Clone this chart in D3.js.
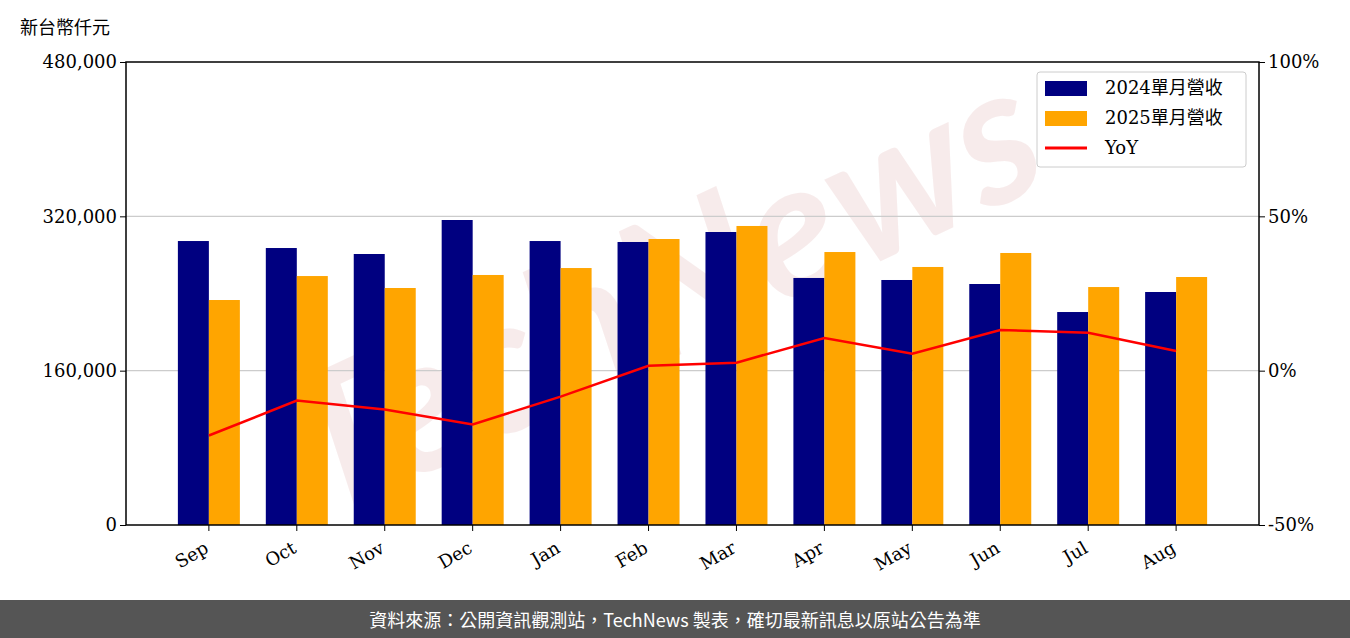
<!DOCTYPE html>
<html><head><meta charset="utf-8">
<script src="https://cdn.jsdelivr.net/npm/d3@7"></script>
<style>body{margin:0;background:#fff}</style>
</head><body><div id="chart"></div>
<script>
// data
var months = ["Sep","Oct","Nov","Dec","Jan","Feb","Mar","Apr","May","Jun","Jul","Aug"];
var rev2024 = [294400,287150,280950,316200,294400,293400,303750,256100,254000,249850,220800,241550];
var rev2025 = [233250,258100,245700,259200,266400,296500,310000,283000,267500,282000,246700,257100];
var yoy = [-21,-9.7,-12.6,-17.4,-8.4,1.6,2.6,10.6,5.5,13.2,12.3,6.4];
var leftTicks = [0,160000,320000,480000];
var rightTicks = [-50,0,50,100];

var W = 1350, H = 638;
var L = 126, R = 1259, T = 62, B = 525;
var serif = "'DejaVu Serif','Noto Sans CJK TC',serif";

var svg = d3.select("#chart").append("svg").attr("width", W).attr("height", H);

// watermark
svg.append("text").attr("x", 690).attr("y", 350)
  .attr("transform", "rotate(-25,690,350)")
  .attr("text-anchor", "middle")
  .attr("font-family", "Lato,sans-serif").attr("font-weight", "bold").attr("font-style", "italic")
  .attr("font-size", 190).attr("fill", "#f2dcdc").attr("opacity", 0.55)
  .text("TechNews");

var x = d3.scaleBand().domain(months).range([L, R]).paddingInner(0.295).paddingOuter(0.59);
var y = d3.scaleLinear().domain([0, 480000]).range([B, T]);
var y2 = d3.scaleLinear().domain([-50, 100]).range([B, T]);

// grid
svg.selectAll(".grid").data(leftTicks.slice(1, 3)).enter().append("line")
  .attr("x1", L).attr("x2", R).attr("y1", d => y(d)).attr("y2", d => y(d))
  .attr("stroke", "#ccc").attr("stroke-width", 1.2);

var bw = x.bandwidth() / 2;
svg.selectAll(".b24").data(rev2024).enter().append("rect")
  .attr("x", (d, i) => x(months[i])).attr("width", bw)
  .attr("y", d => y(d)).attr("height", d => B - y(d)).attr("fill", "#000080");
svg.selectAll(".b25").data(rev2025).enter().append("rect")
  .attr("x", (d, i) => x(months[i]) + bw).attr("width", bw)
  .attr("y", d => y(d)).attr("height", d => B - y(d)).attr("fill", "#ffa500");

var line = d3.line().x((d, i) => x(months[i]) + bw).y(d => y2(d));
svg.append("path").datum(yoy).attr("d", line).attr("fill", "none")
  .attr("stroke", "red").attr("stroke-width", 2.5);

// frame
svg.append("rect").attr("x", L).attr("y", T).attr("width", R - L).attr("height", B - T)
  .attr("fill", "none").attr("stroke", "#000").attr("stroke-width", 1.5);

// axes
var yAxis = d3.axisLeft(y).tickValues(leftTicks).tickFormat(d3.format(",")).tickSize(6);
var gy = svg.append("g").attr("transform", "translate(" + L + ",0)").call(yAxis);
var yAxis2 = d3.axisRight(y2).tickValues(rightTicks).tickFormat(d => d + "%").tickSize(6);
var gy2 = svg.append("g").attr("transform", "translate(" + R + ",0)").call(yAxis2);
var xAxis = d3.axisBottom(x).tickSize(6);
var gx = svg.append("g").attr("transform", "translate(0," + B + ")").call(xAxis);
[gy, gy2, gx].forEach(function(g) {
  g.select(".domain").remove();
  g.selectAll("text").attr("font-family", serif).attr("font-size", 18).attr("fill", "#000");
  g.selectAll("line").attr("stroke", "#000");
});
gx.selectAll("text").attr("transform", "rotate(-30)").attr("text-anchor", "end")
  .attr("dx", "-0.7em").attr("dy", "0.8em");

svg.append("text").attr("x", 20).attr("y", 34).attr("font-family", "'Noto Sans CJK TC',sans-serif")
  .attr("font-size", 18).text("新台幣仟元");

// legend
var lg = svg.append("g").attr("transform", "translate(1037,72)");
lg.append("rect").attr("width", 209).attr("height", 95).attr("rx", 3)
  .attr("fill", "#fff").attr("fill-opacity", 0.85).attr("stroke", "#ccc");
var items = [["2024單月營收", "#000080", "rect"], ["2025單月營收", "#ffa500", "rect"], ["YoY", "red", "line"]];
items.forEach(function(it, i) {
  var cy = 16 + i * 30;
  if (it[2] === "rect") lg.append("rect").attr("x", 8).attr("y", cy - 7).attr("width", 42).attr("height", 15).attr("fill", it[1]);
  else lg.append("line").attr("x1", 8).attr("x2", 50).attr("y1", cy).attr("y2", cy).attr("stroke", it[1]).attr("stroke-width", 3);
  lg.append("text").attr("x", 68).attr("y", cy + 6).attr("font-family", serif)
    .attr("font-size", 18).text(it[0]);
});

// footer
svg.append("rect").attr("x", 0).attr("y", 600).attr("width", W).attr("height", 38).attr("fill", "#555");
svg.append("text").attr("x", W / 2).attr("y", 627).attr("text-anchor", "middle")
  .attr("font-family", "'Noto Sans CJK TC',sans-serif").attr("font-size", 18).attr("fill", "#fff")
  .text("資料來源：公開資訊觀測站，TechNews 製表，確切最新訊息以原站公告為準");
</script></body></html>
